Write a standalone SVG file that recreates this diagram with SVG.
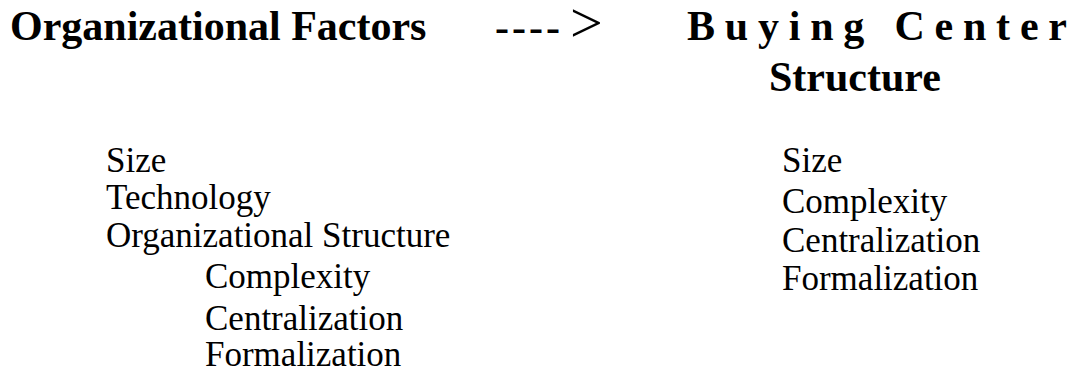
<svg xmlns="http://www.w3.org/2000/svg" width="1084" height="375" viewBox="0 0 1084 375">
<style>
.t{font-family:"Liberation Serif","Times New Roman",serif;fill:#000}
.h{font-size:42px;font-weight:bold}
.l{font-size:35px}
</style>
<rect width="1084" height="375" fill="#fff"/>
<g id="left-title"><text class="t h" x="10" y="40">Organizational Factors</text></g>
<g id="connectors">
<text class="t h" x="495" y="41" textLength="65" lengthAdjust="spacing">----</text>
<text class="t" x="570" y="42" font-size="58">&gt;</text>
</g>
<g id="right-title">
<text class="t h" x="687" y="40" textLength="380" lengthAdjust="spacing">Buying Center</text>
<text class="t h" x="769" y="91">Structure</text>
</g>
<g id="left-list">
<text class="t l" x="106" y="172">Size</text>
<text class="t l" x="106" y="209">Technology</text>
<text class="t l" x="106" y="247">Organizational Structure</text>
<text class="t l" x="205" y="288">Complexity</text>
<text class="t l" x="205" y="330">Centralization</text>
<text class="t l" x="205" y="366">Formalization</text>
</g>
<g id="right-list">
<text class="t l" x="782" y="172">Size</text>
<text class="t l" x="782" y="213">Complexity</text>
<text class="t l" x="782" y="252">Centralization</text>
<text class="t l" x="782" y="290">Formalization</text>
</g>
</svg>
